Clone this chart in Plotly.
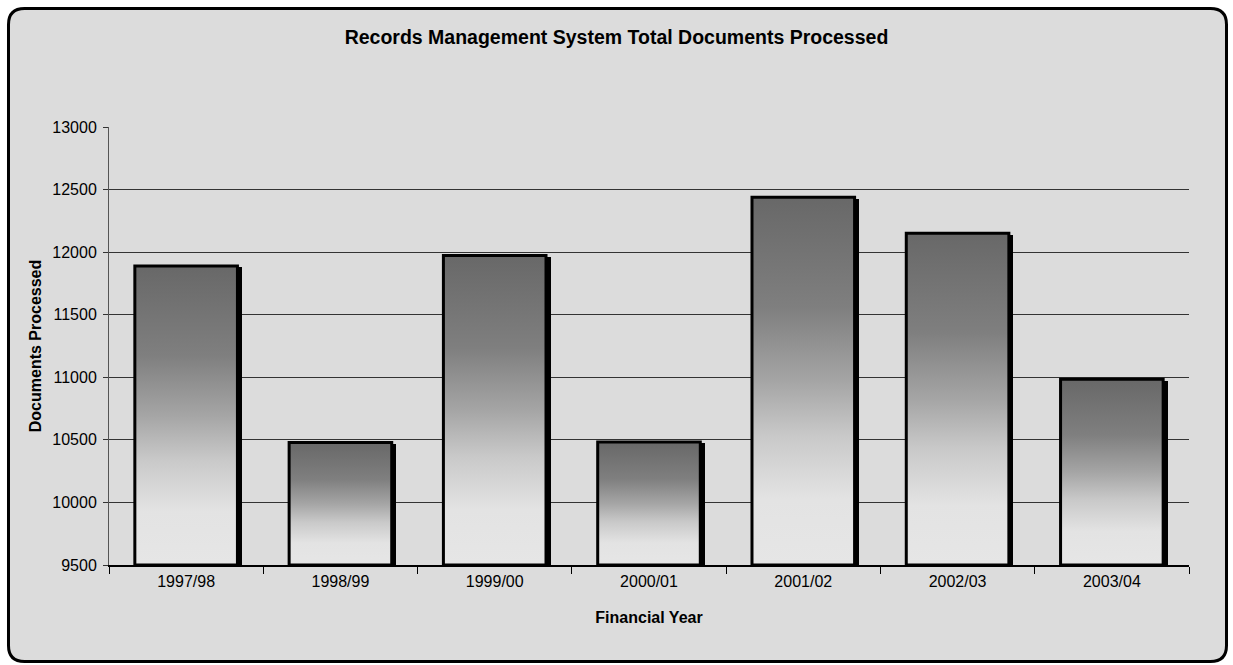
import plotly.graph_objects as go

# Financial years and document counts
years = ["1997/98", "1998/99", "1999/00", "2000/01", "2001/02", "2002/03", "2003/04"]
documents = [11890, 10478, 11973, 10483, 12438, 12150, 10984]
y_ticks = [9500, 10000, 10500, 11000, 11500, 12000, 12500, 13000]

Y_MIN, Y_MAX = 9500, 13000
BAR_W = 0.665
FONT = "Liberation Sans, Arial, sans-serif"

W, H = 1233, 665
M_L, M_R, M_T, M_B = 109, 44, 127, 100
PW, PH = W - M_L - M_R, H - M_T - M_B


def px_to_paper(px, py):
    return (px - M_L) / PW, (H - M_B - py) / PH


def rounded_rect_path(x0, y0, x1, y1, r):
    def p(x, y):
        a, b = px_to_paper(x, y)
        return f"{a:.5f},{b:.5f}"
    parts = [
        f"M {p(x0 + r, y0)}",
        f"L {p(x1 - r, y0)}",
        f"Q {p(x1, y0)} {p(x1, y0 + r)}",
        f"L {p(x1, y1 - r)}",
        f"Q {p(x1, y1)} {p(x1 - r, y1)}",
        f"L {p(x0 + r, y1)}",
        f"Q {p(x0, y1)} {p(x0, y1 - r)}",
        f"L {p(x0, y0 + r)}",
        f"Q {p(x0, y0)} {p(x0 + r, y0)}",
        "Z",
    ]
    return " ".join(parts)


positions = list(range(len(years)))
units_per_px = (Y_MAX - Y_MIN) / PH
dx = 3 / PW * len(years)

fig = go.Figure()

# drop shadow behind each bar
fig.add_trace(go.Bar(
    x=[p + dx for p in positions],
    y=[v - 1.5 * units_per_px for v in documents],
    width=BAR_W + 3 / PW * len(years),
    marker=dict(color="black", line=dict(width=0)),
    hoverinfo="skip",
    showlegend=False,
))

# gradient-filled bars with black outline
gradient = [
    [0.0, "#e6e6e6"],
    [0.18, "#e3e3e3"],
    [0.35, "#c9c9c9"],
    [0.5, "#a5a5a5"],
    [0.7, "#7f7f7f"],
    [1.0, "#686868"],
]
for p, v in zip(positions, documents):
    x0, x1 = p - BAR_W / 2, p + BAR_W / 2
    fig.add_trace(go.Scatter(
        x=[x0, x1, x1, x0, x0],
        y=[Y_MIN, Y_MIN, v, v, Y_MIN],
        mode="lines",
        fill="toself",
        fillgradient=dict(type="vertical", colorscale=gradient, start=Y_MIN, stop=v),
        line=dict(color="black", width=3),
        hoverinfo="skip",
        showlegend=False,
    ))

fig.update_layout(
    width=W,
    height=H,
    margin=dict(l=M_L, r=M_R, t=M_T, b=M_B, autoexpand=False),
    paper_bgcolor="white",
    plot_bgcolor="rgba(0,0,0,0)",
    font=dict(family=FONT, color="black", size=16),
    title=dict(
        text="<b>Records Management System Total Documents Processed</b>",
        x=0.5, xref="container", xanchor="center",
        y=1 - 37 / H, yref="container", yanchor="middle",
        font=dict(size=19.5, family=FONT, color="black"),
    ),
    showlegend=False,
    bargap=0,
    shapes=[dict(
        type="path",
        xref="paper", yref="paper",
        path=rounded_rect_path(8.5, 8.5, 1226.5, 661.5, 16),
        fillcolor="#dcdcdc",
        line=dict(color="black", width=3),
        layer="below",
    )],
)

fig.update_xaxes(
    range=[-0.5, len(years) - 0.5],
    tickmode="array",
    tickvals=positions,
    ticktext=years,
    ticks="",
    ticklabelstandoff=1,
    showgrid=False,
    zeroline=False,
    showline=True,
    linecolor="black",
    linewidth=1.5,
    minor=dict(
        tickmode="array",
        tickvals=[p - 0.5 for p in positions] + [positions[-1] + 0.5],
        ticks="outside",
        ticklen=7,
        tickcolor="black",
        tickwidth=1,
        showgrid=False,
    ),
    title=dict(text="<b>Financial Year</b>", font=dict(size=16, family=FONT), standoff=23),
    tickfont=dict(size=16, family=FONT),
)

fig.update_yaxes(
    range=[Y_MIN, Y_MAX],
    tickmode="array",
    tickvals=y_ticks,
    tickformat="d",
    ticks="outside",
    ticklen=5,
    tickcolor="#333333",
    ticklabelstandoff=3,
    showgrid=True,
    gridcolor="#333333",
    gridwidth=1,
    zeroline=False,
    showline=True,
    linecolor="#555555",
    linewidth=1,
    title=dict(text="<b>Documents Processed</b>", font=dict(size=16, family=FONT), standoff=6),
    tickfont=dict(size=16, family=FONT),
)

fig.write_html("out.html")
